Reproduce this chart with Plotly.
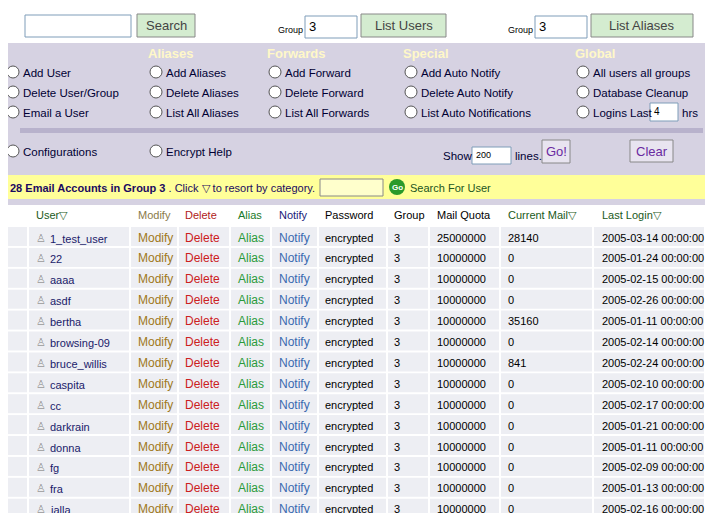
import plotly.graph_objects as go

ids = [47, 23, 36, 40, 6, 35, 39, 32, 38, 19, 5, 29, 12, 37]
users = ["1_test_user", "22", "aaaa", "asdf", "bertha", "browsing-09", "bruce_willis",
         "caspita", "cc", "darkrain", "donna", "fg", "fra", "jalla"]
quotas = ["25000000"] + ["10000000"] * 13
current = ["28140", "0", "0", "0", "35160", "0", "841", "0", "0", "0", "0", "0", "0", "0"]
logins = ["2005-03-14", "2005-01-24", "2005-02-15", "2005-02-26", "2005-01-11", "2005-02-14",
          "2005-02-24", "2005-02-10", "2005-02-17", "2005-01-21", "2005-01-11", "2005-02-09",
          "2005-01-13", "2005-02-16"]
headers = ["ID▽", "User▽", "Modify", "Delete", "Alias", "Notify", "Password", "Group",
           "Mail Quota", "Current Mail▽", "Last Login▽"]
menu = {
    "Users": ["Add User", "Delete User/Group", "Email a User"],
    "Aliases": ["Add Aliases", "Delete Aliases", "List All Aliases"],
    "Forwards": ["Add Forward", "Delete Forward", "List All Forwards"],
    "Special": ["Add Auto Notify", "Delete Auto Notify", "List Auto Notifications"],
    "Global": ["All users all groups", "Database Cleanup", "Logins Last"],
}

F = "Liberation Sans, Arial"
shapes, ann = [], []

def rect(x0, y0, x1, y1, fill, line=None, lw=1):
    shapes.append(dict(type="rect", x0=x0, y0=y0, x1=x1, y1=y1, fillcolor=fill,
                       line=dict(color=line or fill, width=lw if line else 0), layer="below"))

def text(x, y, s, size=11, color="#000", anchor="left", bold=False):
    if bold:
        s = "<b>" + s + "</b>"
    ann.append(dict(x=x, y=y, text=s, showarrow=False, xanchor=anchor, yanchor="middle",
                    font=dict(family=F, size=size, color=color)))

def circle(x, y):
    shapes.append(dict(type="circle", x0=x - 6, y0=y - 6, x1=x + 6, y1=y + 6,
                       fillcolor="white", line=dict(color="#555", width=1)))

def button(x0, y0, x1, y1, label, fill="#d4ecd0", color="#444"):
    rect(x0, y0, x1, y1, fill, "#888", 1)
    text((x0 + x1) / 2, (y0 + y1) / 2, label, 13, color, "center")

# top bar
text(3, 30, "User", 9)
rect(25, 15, 131, 37, "white", "#7f9db9")
button(137, 14, 195, 37, "Search")
text(276, 30, "Group", 9)
rect(305, 16, 357, 38, "white", "#7f9db9")
text(307, 26, "3", 13)
button(361, 14, 446, 37, "List Users")
text(506, 30, "Group", 9)
rect(535, 16, 587, 38, "white", "#7f9db9")
text(537, 26, "3", 13)
button(591, 14, 693, 37, "List Aliases")

# lavender panel
rect(0, 43, 713, 170, "#d6d2e2")
rect(20, 128, 703, 133, "#b8b2cc")
cols_x = [3, 146, 265, 401, 573]
for cx, (head, items) in zip(cols_x, menu.items()):
    text(cx, 53, head, 13, "#fff8c8", bold=True)
    for i, it in enumerate(items):
        circle(cx + 10, 72 + 20 * i)
        text(cx + 18, 73 + 20 * i, it, 11.5, "#000033")
rect(650, 103, 678, 121, "white", "#7f9db9")
text(652, 111, "4", 10)
text(680, 113, "hrs", 11.5, "#000033")
circle(13, 151); text(21, 152, "Configurations", 11.5, "#000033")
circle(156, 151); text(164, 152, "Encrypt Help", 11.5, "#000033")
text(441, 156, "Show", 11.5, "#000033")
rect(472, 147, 511, 164, "white", "#7f9db9")
text(474, 155, "200", 9)
text(513, 156, "lines.", 11.5, "#000033")
button(542, 140, 570, 163, "Go!", "#e8e4f0", "#6a2aa0")
button(630, 140, 673, 162, "Clear", "#e8e4f0", "#6a2aa0")

# yellow bar
rect(0, 170, 713, 205, "#d6d2e2")
rect(5, 175, 707, 199, "#ffff99")
text(8, 188, "<b>28 Email Accounts in Group 3</b> . Click ▽ to resort by category.", 11, "#1a0a60")
rect(320, 179, 383, 196, "#ffffcc", "#888")
shapes.append(dict(type="circle", x0=389, y0=179, x1=405, y1=195, fillcolor="#2a9a2a",
                   line=dict(width=0)))
text(397, 187, "Go", 8, "white", "center", True)
text(408, 188, "Search For User", 11, "#225522")

# table
edges = [3, 29, 131, 179, 231, 272, 319, 388, 430, 501, 594, 706]
hx = [6, 34, 136, 183, 236, 277, 323, 392, 435, 506, 600]
hcol = ["#1a5a1a", "#1a5a1a", "#8a7a4a", "#b02020", "#1a7a2a", "#1a1a7a", "#000", "#000",
        "#000", "#1a5a1a", "#1a5a1a"]
for x, h, c in zip(hx, headers, hcol):
    text(x, 215, h, 11, c)
for r in range(len(ids)):
    y0 = 227 + 20.9 * r
    yc = y0 + 10.5
    for a, b in zip(edges[:-1], edges[1:]):
        rect(a, y0, b - 2, y0 + 19, "#edeef3")
    vals = [str(ids[r]), "", "Modify", "Delete", "Alias", "Notify", "encrypted", "3",
            quotas[r], current[r], logins[r] + " 00:00:00"]
    colors = ["#000", "#000", "#a07820", "#cc2020", "#2a9a3a", "#3a6ab0", "#000", "#000",
              "#000", "#000", "#000"]
    sizes = [11, 11, 12, 12, 12, 12, 11, 11, 11, 11, 11]
    for x, v, c, s in zip(hx, vals, colors, sizes):
        if v:
            text(x, yc, v, s, c)
    text(34, yc, "♙", 11, "#999")
    text(48, yc + 1, users[r], 11, "#1a1a6a")

# page body has an 8px margin: draw the 8..705 / 8..513 window of the layout
fig = go.Figure()
fig.update_layout(width=697, height=505, margin=dict(l=0, r=0, t=0, b=0),
                  paper_bgcolor="white", plot_bgcolor="white", shapes=shapes, annotations=ann,
                  xaxis=dict(range=[8, 705], visible=False, fixedrange=True),
                  yaxis=dict(range=[513, 8], visible=False, fixedrange=True),
                  showlegend=False)
fig.write_html("out.html", config={"displayModeBar": False})
